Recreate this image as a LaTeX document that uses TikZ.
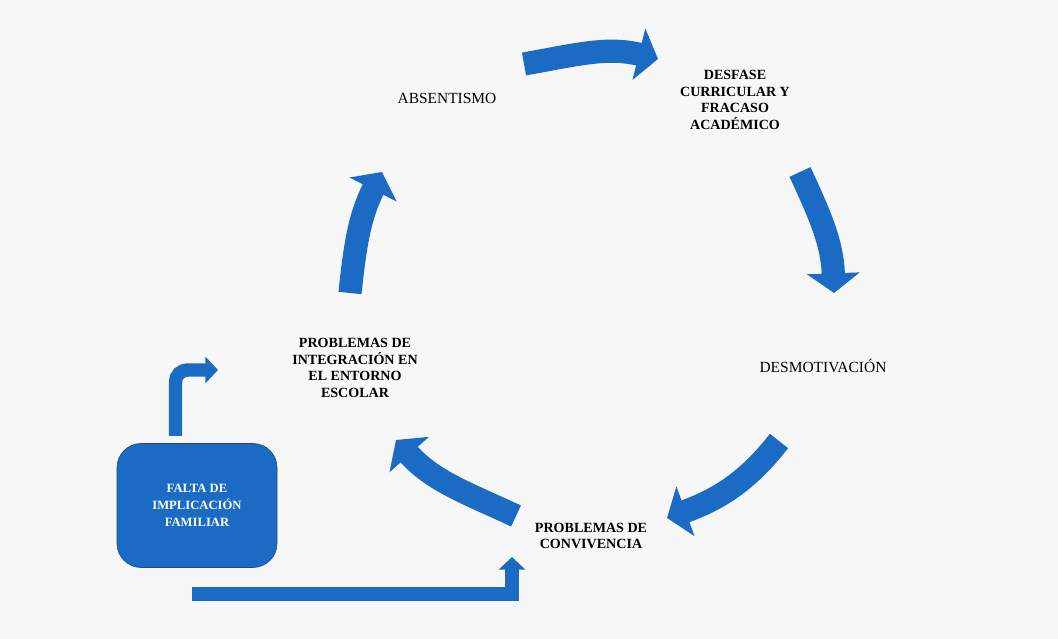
\documentclass[tikz,border=0pt]{standalone}
\usepackage{fontspec}
\setmainfont{Liberation Serif}
\usetikzlibrary{arrows.meta}
\definecolor{cycleblue}{RGB}{27,107,196}
\definecolor{boxedge}{RGB}{25,75,140}
\definecolor{paper}{RGB}{247,247,247}
\def\drawcycle{\draw[color=cycleblue, line width=16.5pt, -{Triangle[width=37pt,length=14pt]}]}
\def\drawbent{\draw[color=cycleblue, line width=9.5pt, -{Triangle[width=18.5pt,length=9pt]}]}
\def\stagenode{\node[align=center, font=\fontsize{10}{11.8}\selectfont\bfseries]}
\def\plainnode{\node[align=center, font=\fontsize{11}{13}\selectfont]}

\begin{document}
\begin{tikzpicture}[x=0.25cm,y=0.25cm,inner sep=1mm]
\path[use as bounding box, fill=paper] (0,0) rectangle (105.8,63.9);
\plainnode (absent) at (44.7,54.1) {ABSENTISMO};
\stagenode (desfase) at (73.5,53.9) {DESFASE\\CURRICULAR Y\\FRACASO\\ACADÉMICO};
\plainnode (desmot) at (82.3,27.3) {DESMOTIVACIÓN};
\stagenode (conviv) at (59.1,10.3) {PROBLEMAS DE\\CONVIVENCIA};
\stagenode (integ) at (35.5,27.1) {PROBLEMAS DE\\INTEGRACIÓN EN\\EL ENTORNO\\ESCOLAR};
\node[draw=boxedge, fill=cycleblue, rounded corners=6mm, minimum width=4cm, minimum height=3.1cm, align=center, text=white, font=\fontsize{9}{12}\selectfont\bfseries] (falta) at (19.7,13.35) {FALTA DE\\IMPLICACIÓN\\FAMILIAR};
\coordinate (c1a) at (52.4,57.5);
\coordinate (c1b) at (65.8,58.0);
\coordinate (c2a) at (80.0,46.7);
\coordinate (c2b) at (83.4,34.6);
\coordinate (c3a) at (77.9,19.8);
\coordinate (c3b) at (66.7,12.1);
\coordinate (c4a) at (51.6,12.3);
\coordinate (c4b) at (39.6,19.9);
\coordinate (c5a) at (35.0,34.6);
\coordinate (c5b) at (38.2,46.7);
\coordinate (b1a) at (17.55,20.3);
\coordinate (b1b) at (21.8,26.9);
\coordinate (b2a) at (19.2,4.5);
\coordinate (b2b) at (51.2,8.2);
\drawcycle (c1a) to[out=10,in=166] (c1b);
\drawcycle (c2a) to[out=295,in=92] (c2b);
\drawcycle (c3a) to[out=232,in=20] (c3b);
\drawcycle (c4a) to[out=155,in=312] (c4b);
\drawcycle (c5a) to[out=84,in=243] (c5b);
\drawbent[rounded corners=3mm] (b1a) |- (b1b);
\drawbent (b2a) -| (b2b);
\end{tikzpicture}
\end{document}
